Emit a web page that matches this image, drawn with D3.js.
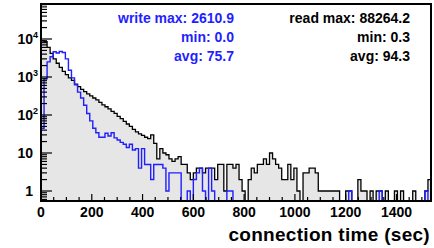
<!DOCTYPE html>
<html><head><meta charset="utf-8">
<script src="https://cdn.jsdelivr.net/npm/d3@7"></script>
<style>
html,body{margin:0;padding:0;background:#fff;}
svg{display:block;}
text{font-family:"Liberation Sans",Arial,Helvetica,sans-serif;font-weight:bold;}
</style></head><body>
<svg id="c" width="434" height="248"></svg>
<script>
// ---- data ----
const binWidth = 12;               // seconds per bin
const xMax = 1536;                 // histogram upper edge (sec)
const readCounts = [
  9000, 8500, 6000, 4200, 3000, 2300, 1800, 1400, 1150, 950,
  820, 650, 560, 470, 410, 360, 320, 280, 250, 215,
  185, 165, 145, 125, 110, 92, 80, 68, 58, 50,
  42, 36, 32, 29, 26, 24, 30, 18, 7, 13,
  10, 9, 7, 6, 7, 8, 5, 5, 3, 2,
  3, 4, 4, 3, 4, 4, 4, 2, 5, 5,
  1, 5, 5, 4, 5, 2, 1, 0, 2, 4,
  3, 5, 5, 7, 5, 10, 7, 5, 4, 2,
  2, 5, 2, 4, 1, 0, 3, 3, 4, 4,
  3, 1, 1, 1, 1, 1, 1, 1, 0, 0,
  1, 1, 0, 0, 2, 1, 1, 0, 1, 0,
  1, 1, 0, 1, 0, 0, 1, 0, 1, 0,
  0, 0, 1, 0, 0, 0, 1, 2
];
const writeCounts = [
  45, 900, 2500, 3400, 4600, 4300, 4700, 4400, 3000, 1500,
  950, 620, 400, 280, 180, 110, 70, 45, 34, 26,
  26, 33, 28, 34, 25, 22, 19, 17, 14, 17,
  12, 13, 4, 13, 5, 5, 2, 5, 5, 5,
  4, 1, 3, 3, 3, 3, 0, 0, 1, 0,
  2, 3, 4, 1, 0, 4, 1, 0, 0, 0,
  0, 1, 1, 0, 0, 0, 0, 0, 0, 0,
  0, 0, 0, 0, 0, 0, 0, 0, 0, 0,
  0, 0, 0, 0, 0, 0, 0, 0, 0, 0,
  0, 0, 0, 0, 0, 0, 0, 0, 0, 0,
  0, 1, 0, 0, 0, 0, 0, 0, 0, 0,
  0, 1, 0, 0, 0, 0, 0, 0, 0, 0,
  0, 0, 0, 0, 0, 0, 1, 0
];
const xTickValues = [0, 200, 400, 600, 800, 1000, 1200, 1400];
const yTickValues = [1, 10, 100, 1000, 10000];
const writeStats = ["write max: 2610.9", "min: 0.0", "avg: 75.7"];
const readStats = ["read max: 88264.2", "min: 0.3", "avg: 94.3"];
const xTitle = "connection time (sec)";

// ---- layout ----
const L = 41, R = 431, T = 4, B = 201;
const svg = d3.select("#c");
const x = d3.scaleLinear().domain([0, xMax]).range([L, R]);
const y = d3.scaleLog().domain([Math.pow(10, -0.263), Math.pow(10, 4.921)]).range([B, T]);
const yFloor = y.domain()[0];

svg.append("defs").append("clipPath").attr("id", "clip")
  .append("rect").attr("x", L).attr("y", T).attr("width", R - L).attr("height", B - T);

function pts(counts) {
  const p = [[0, yFloor]];
  counts.forEach((c, i) => p.push([i * binWidth, Math.max(c, yFloor)]));
  p.push([counts.length * binWidth, Math.max(counts[counts.length - 1], yFloor)]);
  p.push([counts.length * binWidth, yFloor]);
  return p;
}
const line = d3.line().x(d => x(d[0])).y(d => y(d[1])).curve(d3.curveStepAfter);

const g = svg.append("g").attr("clip-path", "url(#clip)");
g.append("path").attr("d", line(pts(readCounts)))
  .attr("fill", "#e6e6e6").attr("stroke", "#000").attr("stroke-width", 1.3);
g.append("path").attr("d", line(pts(writeCounts)))
  .attr("fill", "none").attr("stroke", "#1f1fff").attr("stroke-width", 1.4);

// frame
svg.append("rect").attr("x", L).attr("y", T).attr("width", R - L).attr("height", B - T)
  .attr("fill", "none").attr("stroke", "#000").attr("stroke-width", 2);

// x ticks (inward)
const xt = svg.append("g");
d3.range(0, xMax + 1, 50).forEach(v => {
  const len = v % 200 === 0 ? 7 : 4;
  xt.append("line").attr("x1", x(v)).attr("x2", x(v)).attr("y1", B).attr("y2", B - len)
    .attr("stroke", "#000").attr("stroke-width", 1.2);
});
xt.selectAll("text.xl").data(xTickValues).enter().append("text")
  .attr("x", d => x(d)).attr("y", 217).attr("text-anchor", "middle")
  .attr("font-size", 14).text(d => d);

// y ticks (inward, log minors)
const yt = svg.append("g");
for (let e = -1; e <= 4; e++) {
  for (let m = 1; m <= 9; m++) {
    const v = m * Math.pow(10, e);
    if (v < yFloor || v > y.domain()[1]) continue;
    const len = m === 1 ? 11 : 6;
    yt.append("line").attr("x1", L).attr("x2", L + len).attr("y1", y(v)).attr("y2", y(v))
      .attr("stroke", "#000").attr("stroke-width", 1.2);
  }
}
yTickValues.forEach(v => {
  const e = Math.round(Math.log10(v));
  const base = e === 0 ? "1" : "10";
  yt.append("text").attr("x", 33).attr("y", y(v) + 5).attr("text-anchor", "end")
    .attr("font-size", 14).text(base);
  if (e >= 2) {
    yt.append("text").attr("x", 33).attr("y", y(v) - 1).attr("text-anchor", "start")
      .attr("font-size", 9).text(e);
  }
});

// stats text
writeStats.forEach((s, i) => {
  svg.append("text").attr("x", 234).attr("y", 23 + i * 19).attr("text-anchor", "end")
    .attr("font-size", 14).attr("fill", "#1f1fff").text(s);
});
readStats.forEach((s, i) => {
  svg.append("text").attr("x", 410).attr("y", 23 + i * 19).attr("text-anchor", "end")
    .attr("font-size", 14).attr("fill", "#000").text(s);
});

// axis title
svg.append("text").attr("x", 430).attr("y", 241).attr("text-anchor", "end")
  .attr("font-size", 19).attr("letter-spacing", 0.3).text(xTitle);
</script>
</body></html>
